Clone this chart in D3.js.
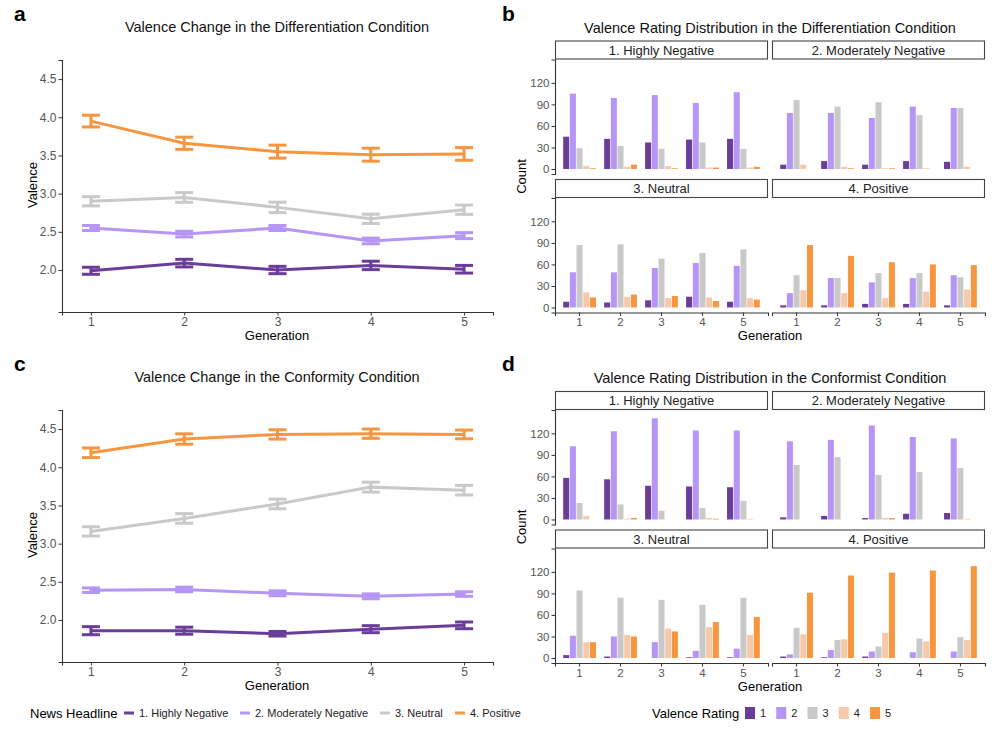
<!DOCTYPE html>
<html>
<head>
<meta charset="utf-8">
<title>Valence Change and Rating Distribution</title>
<script src="https://cdn.jsdelivr.net/npm/d3@7/dist/d3.min.js"></script>
<style>
  body { margin: 0; background: #fff; }
  svg { font-family: "Liberation Sans", Arial, sans-serif; }
  .tick text { fill: #555; }
  .domain, .tick line { stroke: #333; }
</style>
</head>
<body>
<script>
// ---- data ----
var generations = [1, 2, 3, 4, 5];
var headlines = ["1. Highly Negative", "2. Moderately Negative", "3. Neutral", "4. Positive"];
var ratings = [1, 2, 3, 4, 5];
var valenceTicks = [2.0, 2.5, 3.0, 3.5, 4.0, 4.5];
var countTicks = [0, 30, 60, 90, 120];

// mean valence per headline (rows) and generation (cols)
var diffMean = [
  [1.99, 2.09, 2.00, 2.06, 2.01],
  [2.55, 2.47, 2.55, 2.38, 2.45],
  [2.90, 2.95, 2.82, 2.67, 2.79],
  [3.95, 3.66, 3.55, 3.51, 3.52]
];
var diffSE = [
  [0.046, 0.050, 0.048, 0.055, 0.050],
  [0.033, 0.037, 0.033, 0.037, 0.039],
  [0.060, 0.063, 0.068, 0.061, 0.061],
  [0.077, 0.080, 0.085, 0.085, 0.083]
];
var confMean = [
  [1.86, 1.86, 1.82, 1.88, 1.93],
  [2.39, 2.40, 2.35, 2.31, 2.34],
  [3.16, 3.33, 3.52, 3.74, 3.70],
  [4.19, 4.37, 4.43, 4.44, 4.43]
];
var confSE = [
  [0.053, 0.046, 0.030, 0.046, 0.044],
  [0.030, 0.030, 0.032, 0.032, 0.030],
  [0.061, 0.063, 0.063, 0.065, 0.063],
  [0.063, 0.068, 0.061, 0.061, 0.057]
];

// counts: headline -> generation -> rating 1..5
var diffCounts = [
  [[45, 105, 29, 4, 1], [42, 99, 32, 3, 6], [37, 103, 28, 4, 1], [41, 92, 37, 2, 2], [42, 107, 28, 2, 3]],
  [[6, 78, 96, 6, 0], [11, 78, 87, 3, 1], [6, 71, 93, 1, 1], [11, 87, 75, 1, 0], [10, 85, 85, 3, 0]],
  [[8, 49, 87, 21, 14], [7, 49, 88, 15, 18], [10, 55, 68, 13, 16], [15, 62, 76, 14, 9], [8, 58, 81, 13, 11]],
  [[3, 20, 45, 24, 87], [3, 41, 41, 20, 72], [5, 35, 48, 13, 63], [5, 41, 48, 22, 60], [3, 45, 42, 25, 59]]
];
var confCounts = [
  [[58, 102, 23, 5, 0], [56, 123, 21, 1, 2], [47, 141, 12, 0, 0], [46, 124, 16, 2, 1], [45, 124, 26, 1, 0]],
  [[3, 109, 76, 0, 0], [5, 111, 87, 0, 0], [2, 131, 62, 2, 2], [8, 115, 66, 0, 0], [9, 113, 72, 1, 0]],
  [[4, 31, 94, 22, 22], [2, 30, 84, 32, 30], [0, 22, 81, 41, 37], [1, 10, 74, 43, 50], [1, 13, 84, 32, 57]],
  [[2, 5, 42, 33, 91], [1, 11, 25, 26, 115], [2, 9, 16, 35, 119], [0, 8, 27, 23, 122], [0, 9, 29, 25, 128]]
];

var ratingColors = ["#6b3d9b", "#b596f6", "#c9c9c9", "#f8c8aa", "#f6963f"];
var headlineColors = ["#6b3d9b", "#b596f6", "#c9c9c9", "#f6963f"];

var svg = d3.select("body").append("svg")
  .attr("width", 1000)
  .attr("height", 733);

function styleAxis(g, size) {
  g.selectAll(".tick text").style("font-size", size + "px");
  g.select(".domain").attr("stroke-width", 1.1);
}

// ---- line panels (a, c) ----
function linePanel(top, label, title, means, ses) {
  var x = d3.scaleLinear().domain([0.69, 5.31]).range([62, 493]);
  var y = d3.scaleLinear().domain([1.45, 4.75]).range([top + 252, top]);

  svg.append("text").attr("x", 14).attr("y", top - 39)
    .style("font-size", "21px").style("font-weight", "bold").text(label);
  svg.append("text").attr("x", 277).attr("y", top - 28)
    .attr("text-anchor", "middle").style("font-size", "14.5px").attr("fill", "#111").text(title);

  var line = d3.line()
    .x(function(d, i) { return x(generations[i]); })
    .y(function(d) { return y(d); });

  headlines.forEach(function(h, k) {
    var g = svg.append("g");
    g.append("path").datum(means[k])
      .attr("d", line).attr("fill", "none")
      .attr("stroke", headlineColors[k]).attr("stroke-width", 3);
    var eb = g.selectAll(".eb").data(means[k]).enter().append("g");
    eb.append("line")
      .attr("x1", function(d, i) { return x(generations[i]); })
      .attr("x2", function(d, i) { return x(generations[i]); })
      .attr("y1", function(d, i) { return y(d - ses[k][i]); })
      .attr("y2", function(d, i) { return y(d + ses[k][i]); });
    [-1, 1].forEach(function(s) {
      eb.append("line")
        .attr("x1", function(d, i) { return x(generations[i]) - 9; })
        .attr("x2", function(d, i) { return x(generations[i]) + 9; })
        .attr("y1", function(d, i) { return y(d + s * ses[k][i]); })
        .attr("y2", function(d, i) { return y(d + s * ses[k][i]); });
    });
    eb.selectAll("line").attr("stroke", headlineColors[k]).attr("stroke-width", 3);
  });

  var gx = svg.append("g").attr("transform", "translate(0," + (top + 252) + ")")
    .call(d3.axisBottom(x).tickValues(generations).tickFormat(d3.format("d"))
      .tickSizeOuter(0).tickSize(3.5).tickPadding(2));
  styleAxis(gx, 12);
  var gy = svg.append("g").attr("transform", "translate(62,0)")
    .call(d3.axisLeft(y).tickValues(valenceTicks).tickFormat(d3.format(".1f"))
      .tickSizeOuter(0).tickSize(3.5).tickPadding(2));
  styleAxis(gy, 12);

  svg.append("text").attr("x", 277).attr("y", top + 280)
    .attr("text-anchor", "middle").style("font-size", "13px").text("Generation");
  svg.append("text")
    .attr("transform", "translate(37," + (top + 125) + ") rotate(-90)")
    .attr("text-anchor", "middle").style("font-size", "13px").text("Valence");
}

// ---- faceted bar panels (b, d) ----
function barPanel(top, label, title, counts) {
  var colX = [555, 772], facetW = 213, stripH = 19, panelH = 114.5, rowStep = 138.5;

  svg.append("text").attr("x", 502).attr("y", top - 20)
    .style("font-size", "21px").style("font-weight", "bold").text(label);
  svg.append("text").attr("x", 770).attr("y", top - 8)
    .attr("text-anchor", "middle").style("font-size", "14.5px").attr("fill", "#111").text(title);

  headlines.forEach(function(h, k) {
    var row = Math.floor(k / 2), col = k % 2;
    var x0 = colX[col];
    var stripTop = top + row * rowStep;
    var pTop = stripTop + stripH, pBot = pTop + panelH;

    svg.append("rect").attr("x", x0 + 0.5).attr("y", stripTop + 0.5)
      .attr("width", facetW - 1).attr("height", stripH - 1)
      .attr("fill", "#fff").attr("stroke", "#444").attr("stroke-width", 1.1);
    svg.append("text").attr("x", x0 + facetW / 2).attr("y", stripTop + 14)
      .attr("text-anchor", "middle").style("font-size", "13px").attr("fill", "#222").text(h);

    var x = d3.scaleBand().domain(generations).range([x0, x0 + facetW])
      .paddingInner(0.2).paddingOuter(0.2);
    var xr = d3.scaleBand().domain(ratings).range([0, x.bandwidth()]).paddingInner(0.1);
    var y = d3.scaleLinear().domain([-7, 152.6]).range([pBot, pTop]);

    var grp = svg.append("g").selectAll("g").data(counts[k]).enter().append("g")
      .attr("transform", function(d, i) { return "translate(" + x(generations[i]) + ",0)"; });
    grp.selectAll("rect").data(function(d) { return d; }).enter().append("rect")
      .attr("x", function(d, j) { return xr(ratings[j]); })
      .attr("width", xr.bandwidth())
      .attr("y", function(d) { return y(d); })
      .attr("height", function(d) { return y(0) - y(d); })
      .attr("fill", function(d, j) { return ratingColors[j]; });

    if (col === 0) {
      var gy = svg.append("g").attr("transform", "translate(" + x0 + ",0)")
        .call(d3.axisLeft(y).tickValues(countTicks).tickSizeOuter(0).tickSize(3.5).tickPadding(2));
      styleAxis(gy, 11.5);
    }
    if (row === 1) {
      var gx = svg.append("g").attr("transform", "translate(0," + pBot + ")")
        .call(d3.axisBottom(x).tickSizeOuter(0).tickSize(3.5).tickPadding(2));
      styleAxis(gx, 11.5);
    }
  });

  svg.append("text").attr("x", 770).attr("y", top + 299.5)
    .attr("text-anchor", "middle").style("font-size", "13px").text("Generation");
  svg.append("text")
    .attr("transform", "translate(526," + (top + 136) + ") rotate(-90)")
    .attr("text-anchor", "middle").style("font-size", "13px").text("Count");
}

linePanel(60, "a", "Valence Change in the Differentiation Condition", diffMean, diffSE);
barPanel(40.5, "b", "Valence Rating Distribution in the Differentiation Condition", diffCounts);
linePanel(410, "c", "Valence Change in the Conformity Condition", confMean, confSE);
barPanel(391, "d", "Valence Rating Distribution in the Conformist Condition", confCounts);

// ---- legends ----
var legY = 713;
svg.append("text").attr("x", 30).attr("y", legY + 4.5).style("font-size", "13px").text("News Headline");
var keyX = [124, 240, 380, 455];
headlines.forEach(function(h, k) {
  svg.append("line").attr("x1", keyX[k]).attr("x2", keyX[k] + 10)
    .attr("y1", legY).attr("y2", legY)
    .attr("stroke", headlineColors[k]).attr("stroke-width", 3);
  svg.append("text").attr("x", keyX[k] + 15).attr("y", legY + 4)
    .style("font-size", "11px").attr("fill", "#222").text(h);
});

svg.append("text").attr("x", 652).attr("y", legY + 4.5).style("font-size", "13px").text("Valence Rating");
ratings.forEach(function(r, j) {
  var kx = 745 + j * 31.25;
  svg.append("rect").attr("x", kx).attr("y", legY - 6).attr("width", 10).attr("height", 12)
    .attr("fill", ratingColors[j]);
  svg.append("text").attr("x", kx + 15).attr("y", legY + 4)
    .style("font-size", "11px").attr("fill", "#222").text(r);
});
</script>
</body>
</html>
